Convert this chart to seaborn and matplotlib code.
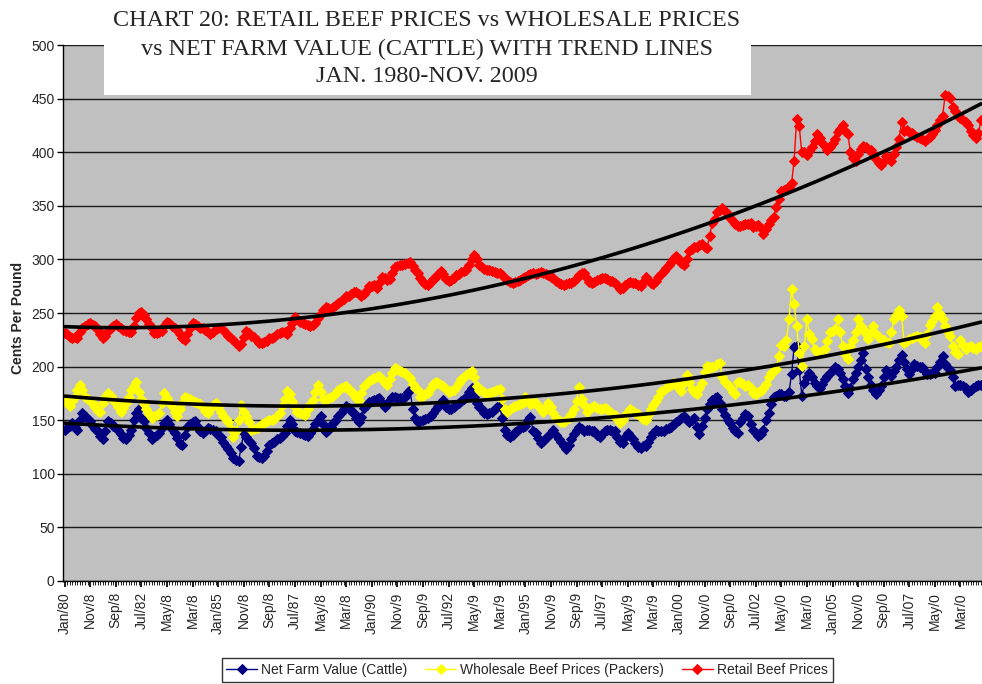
import numpy as np
import pandas as pd
import seaborn as sns
import matplotlib.pyplot as plt
from matplotlib.patches import Rectangle

# monthly values, cents per pound, Jan 1980 - Nov 2009 (one row per year)
retail = [
    231, 230, 228, 227, 228, 227, 232, 236, 238, 240, 241, 239,  # 1980
    238, 234, 230, 227, 229, 233, 236, 238, 240, 238, 236, 234,  # 1981
    233, 232, 232, 238, 245, 250, 251, 248, 244, 240, 236, 231,  # 1982
    231, 232, 233, 238, 242, 241, 238, 236, 234, 230, 227, 225,  # 1983
    230, 236, 241, 240, 238, 236, 236, 234, 232, 230, 232, 235,  # 1984
    236, 236, 234, 231, 229, 227, 225, 222, 219, 221, 228, 233,  # 1985
    231, 229, 228, 225, 222, 222, 223, 224, 227, 227, 228, 230,  # 1986
    231, 232, 232, 230, 236, 241, 246, 244, 242, 241, 240, 239,  # 1987
    238, 239, 241, 245, 249, 253, 256, 255, 254, 256, 257, 259,  # 1988
    261, 263, 266, 266, 268, 270, 270, 268, 266, 268, 271, 275,  # 1989
    275, 276, 273, 278, 284, 283, 281, 282, 287, 293, 294, 295,  # 1990
    295, 296, 297, 298, 294, 290, 287, 283, 279, 277, 276, 279,  # 1991
    282, 284, 286, 289, 286, 282, 280, 281, 283, 285, 286, 288,  # 1992
    289, 290, 295, 300, 304, 300, 295, 293, 291, 290, 290, 289,  # 1993
    288, 287, 287, 285, 283, 281, 279, 278, 279, 280, 281, 283,  # 1994
    284, 285, 286, 287, 286, 287, 288, 287, 286, 285, 284, 283,  # 1995
    280, 278, 277, 276, 277, 278, 278, 280, 283, 285, 287, 287,  # 1996
    283, 279, 278, 279, 281, 282, 283, 283, 282, 280, 280, 278,  # 1997
    276, 272, 273, 276, 278, 279, 278, 278, 276, 275, 279, 284,  # 1998
    281, 278, 277, 280, 284, 286, 289, 292, 295, 298, 301, 303,  # 1999
    300, 297, 295, 300, 308, 310, 312, 312, 313, 314, 312, 311,  # 2000
    322, 334, 338, 344, 346, 348, 345, 342, 339, 336, 333, 331,  # 2001
    331, 332, 333, 333, 334, 330, 331, 332, 329, 324, 328, 333,  # 2002
    337, 340, 349, 356, 364, 365, 366, 368, 371, 392, 431, 424,  # 2003
    400, 400, 397, 401, 405, 410, 417, 413, 409, 406, 402, 405,  # 2004
    409, 412, 419, 422, 425, 420, 417, 400, 395, 392, 398, 403,  # 2005
    406, 405, 403, 402, 398, 394, 390, 388, 392, 396, 394, 392,  # 2006
    398, 405, 412, 428, 420, 421, 419, 418, 416, 414, 413, 412,  # 2007
    410, 412, 414, 417, 421, 425, 430, 434, 453, 452, 451, 442,  # 2008
    438, 434, 432, 430, 428, 425, 420, 416, 413, 418, 430,       # 2009
]

wholesale = [
    170, 166, 163, 168, 172, 178, 183, 178, 172, 170, 168, 166,  # 1980
    162, 159, 158, 166, 172, 175, 173, 169, 166, 162, 158, 161,  # 1981
    166, 172, 178, 182, 186, 176, 170, 165, 160, 156, 152, 154,  # 1982
    155, 157, 166, 175, 171, 167, 163, 158, 154, 160, 166, 172,  # 1983
    171, 170, 168, 167, 166, 165, 162, 159, 157, 160, 164, 166,  # 1984
    162, 158, 154, 151, 148, 142, 134, 140, 150, 164, 158, 154,  # 1985
    148, 141, 142, 143, 144, 146, 147, 149, 150, 150, 151, 154,  # 1986
    157, 163, 170, 177, 174, 168, 162, 158, 157, 156, 155, 160,  # 1987
    165, 169, 176, 183, 176, 170, 169, 171, 172, 173, 175, 178,  # 1988
    180, 181, 182, 179, 176, 174, 171, 169, 175, 182, 185, 187,  # 1989
    188, 189, 190, 191, 188, 185, 183, 188, 194, 199, 198, 196,  # 1990
    195, 194, 191, 189, 184, 180, 178, 172, 173, 174, 175, 180,  # 1991
    184, 186, 185, 183, 182, 179, 176, 177, 178, 181, 185, 188,  # 1992
    190, 192, 194, 196, 190, 182, 178, 177, 176, 174, 175, 176,  # 1993
    177, 178, 179, 170, 160, 158, 160, 162, 163, 164, 165, 166,  # 1994
    172, 168, 165, 166, 166, 163, 160, 158, 162, 166, 162, 157,  # 1995
    152, 150, 148, 148, 150, 152, 156, 160, 168, 181, 170, 164,  # 1996
    158, 160, 162, 163, 161, 160, 160, 161, 160, 158, 156, 155,  # 1997
    151, 147, 150, 155, 158, 160, 159, 157, 156, 153, 151, 150,  # 1998
    155, 160, 164, 168, 172, 177, 178, 180, 182, 183, 185, 183,  # 1999
    180, 177, 185, 192, 186, 179, 176, 174, 180, 185, 195, 201,  # 2000
    200, 200, 201, 202, 203, 190, 186, 183, 181, 176, 174, 186,  # 2001
    186, 184, 182, 183, 180, 175, 174, 176, 177, 180, 184, 190,  # 2002
    194, 196, 198, 210, 220, 219, 225, 244, 272, 258, 238, 213,  # 2003
    201, 219, 244, 230, 226, 216, 214, 213, 215, 216, 224, 232,  # 2004
    233, 235, 244, 232, 219, 212, 207, 219, 225, 232, 244, 238,  # 2005
    235, 230, 226, 232, 238, 230, 228, 226, 225, 223, 222, 232,  # 2006
    244, 248, 253, 247, 222, 224, 226, 227, 228, 229, 228, 225,  # 2007
    222, 230, 239, 243, 247, 256, 249, 244, 238, 232, 229, 219,  # 2008
    214, 212, 225, 220, 216, 218, 219, 217, 216, 218, 219,       # 2009
]

farm = [
    141, 143, 145, 147, 144, 141, 150, 157, 154, 151, 149, 145,  # 1980
    142, 140, 135, 132, 140, 149, 147, 145, 143, 141, 137, 133,  # 1981
    132, 136, 141, 150, 157, 160, 152, 149, 143, 138, 132, 134,  # 1982
    136, 138, 143, 147, 150, 146, 142, 138, 133, 128, 127, 136,  # 1983
    144, 146, 148, 149, 144, 140, 138, 140, 143, 142, 141, 140,  # 1984
    136, 134, 130, 126, 123, 119, 115, 113, 112, 125, 138, 134,  # 1985
    131, 129, 124, 117, 116, 115, 117, 121, 127, 129, 130, 132,  # 1986
    133, 135, 138, 145, 150, 146, 140, 139, 138, 137, 136, 135,  # 1987
    138, 142, 146, 150, 154, 146, 139, 141, 144, 147, 150, 154,  # 1988
    157, 160, 163, 161, 159, 157, 152, 148, 153, 161, 164, 167,  # 1989
    168, 169, 170, 171, 166, 162, 165, 169, 172, 172, 171, 171,  # 1990
    171, 172, 176, 178, 160, 152, 148, 149, 150, 151, 152, 154,  # 1991
    157, 160, 163, 166, 169, 162, 160, 160, 162, 164, 166, 168,  # 1992
    170, 172, 176, 180, 172, 166, 162, 160, 157, 156, 157, 158,  # 1993
    160, 162, 163, 152, 141, 136, 134, 136, 139, 141, 143, 144,  # 1994
    145, 150, 153, 140, 138, 133, 129, 131, 133, 135, 138, 141,  # 1995
    136, 132, 130, 126, 123, 127, 132, 137, 141, 144, 142, 140,  # 1996
    141, 141, 140, 140, 136, 134, 137, 140, 141, 141, 140, 140,  # 1997
    134, 130, 129, 134, 138, 135, 132, 129, 125, 124, 126, 126,  # 1998
    130, 134, 138, 141, 140, 140, 140, 142, 143, 144, 146, 148,  # 1999
    150, 152, 154, 150, 148, 150, 152, 144, 137, 145, 152, 160,  # 2000
    165, 169, 171, 172, 166, 160, 155, 150, 147, 143, 140, 138,  # 2001
    148, 152, 156, 154, 146, 141, 138, 135, 137, 141, 150, 157,  # 2002
    165, 172, 173, 174, 174, 173, 173, 176, 193, 218, 219, 197,  # 2003
    173, 185, 190, 194, 190, 185, 182, 180, 184, 188, 191, 194,  # 2004
    197, 200, 198, 194, 188, 182, 175, 180, 188, 194, 200, 206,  # 2005
    213, 198, 190, 183, 178, 174, 178, 182, 190, 197, 194, 191,  # 2006
    196, 200, 206, 211, 204, 198, 193, 198, 202, 201, 200, 200,  # 2007
    196, 193, 193, 194, 194, 200, 204, 210, 202, 199, 197, 190,  # 2008
    182, 183, 183, 182, 180, 176, 178, 180, 182, 183, 183,       # 2009
]

tick_labels = ['Jan/80', 'Nov/8', 'Sep/8', 'Jul/82', 'May/8', 'Mar/8',
               'Jan/85', 'Nov/8', 'Sep/8', 'Jul/87', 'May/8', 'Mar/8',
               'Jan/90', 'Nov/9', 'Sep/9', 'Jul/92', 'May/9', 'Mar/9',
               'Jan/95', 'Nov/9', 'Sep/9', 'Jul/97', 'May/9', 'Mar/9',
               'Jan/00', 'Nov/0', 'Sep/0', 'Jul/02', 'May/0', 'Mar/0',
               'Jan/05', 'Nov/0', 'Sep/0', 'Jul/07', 'May/0', 'Mar/0']

series = [('farm', 'Net Farm Value (Cattle)', '#000080'),
          ('wholesale', 'Wholesale Beef Prices (Packers)', '#FFFF00'),
          ('retail', 'Retail Beef Prices', '#FF0000')]

df = pd.DataFrame({'month': np.arange(len(retail)),
                   'farm': farm, 'wholesale': wholesale, 'retail': retail})

sns.set_theme(style='white')
plt.rcParams['font.family'] = ['Liberation Sans', 'DejaVu Sans']

W, H = 982, 684
fig = plt.figure(figsize=(W / 100, H / 100), dpi=100)
ax = fig.add_axes([63 / W, 103 / H, 919 / W, 536 / H])
ax.set_facecolor('#C0C0C0')

for col, name, color in series:
    sns.lineplot(data=df, x='month', y=col, ax=ax, color=color, marker='D',
                 markersize=5, markeredgecolor=color, linewidth=1,
                 errorbar=None, label=name, legend=False)
handles = ax.get_lines()[:3]

# 2nd order polynomial trend lines
for col, name, color in series:
    sns.regplot(data=df, x='month', y=col, ax=ax, order=2, scatter=False,
                ci=None, truncate=True,
                line_kws={'color': 'black', 'lw': 2.6, 'zorder': 5})

ax.set_xlim(-0.6, 358.4)
ax.set_ylim(0, 500)
ax.set_yticks(range(0, 501, 50))
ax.set_xticks(range(0, 351, 10))
ax.set_xticklabels(tick_labels, rotation=90, fontsize=10)
ax.set_xticks(df['month'], minor=True)
ax.tick_params(axis='y', labelsize=10, left=True, length=4, width=1, color='black', pad=2)
ax.tick_params(axis='x', which='both', bottom=True, direction='out', color='black', pad=4)
ax.tick_params(axis='x', which='major', length=4)
ax.tick_params(axis='x', which='minor', length=3, width=0.6)
ax.yaxis.grid(True, color='#1a1a1a', lw=1)
ax.set_axisbelow(True)
ax.set_xlabel('')
ax.set_ylabel('')
for side in ['top', 'right']:
    ax.spines[side].set_visible(False)
for side in ['left', 'bottom']:
    ax.spines[side].set_color('black')
    ax.spines[side].set_linewidth(1)

fig.text(18 / W, 1 - 318 / H, 'Cents Per Pound', rotation=90, ha='center',
         va='center', fontsize=10, fontweight='bold')

# white title box over the plot area
fig.add_artist(Rectangle((104 / W, 1 - 95 / H), 647 / W, 95 / H,
                         transform=fig.transFigure, facecolor='white',
                         edgecolor='none', zorder=10))
title_lines = ['CHART 20: RETAIL BEEF PRICES vs WHOLESALE PRICES',
               'vs NET FARM VALUE (CATTLE) WITH TREND LINES',
               'JAN. 1980-NOV. 2009']
for line, yc in zip(title_lines, [21, 49, 76]):
    fig.text(427 / W, 1 - yc / H, line, ha='center', va='center', fontsize=17.4,
             family=['Liberation Serif', 'DejaVu Serif'], zorder=11)

leg = fig.legend(handles, [s[1] for s in series], loc='upper center',
                 bbox_to_anchor=(527 / W, 1 - 658 / H), borderaxespad=0,
                 ncol=3, fontsize=10, frameon=True, fancybox=False,
                 edgecolor='black', handlelength=2.2, columnspacing=1.3,
                 borderpad=0.35, handletextpad=0.3)
leg.get_frame().set_linewidth(1)

fig.savefig('out.png', dpi=100)
